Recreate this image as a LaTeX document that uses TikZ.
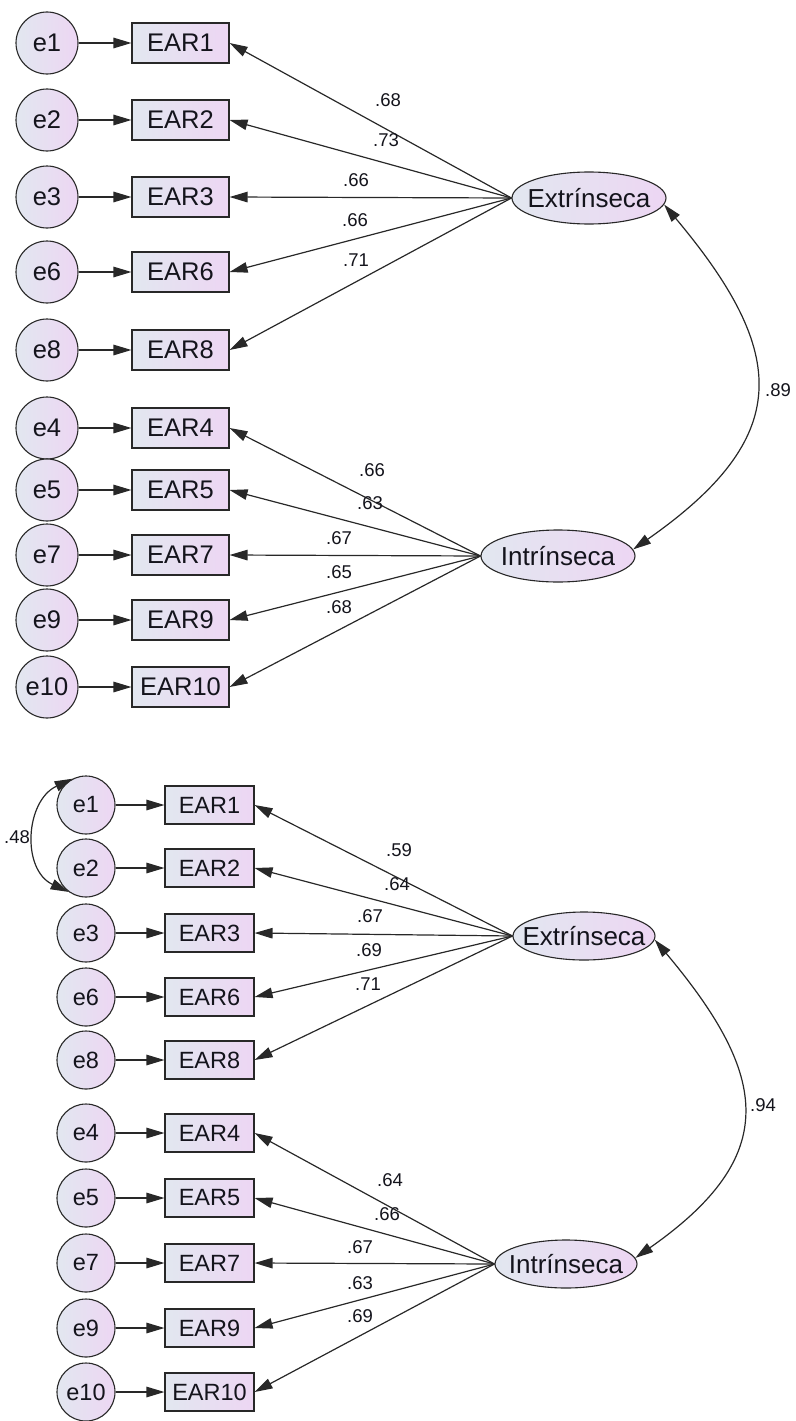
\documentclass[tikz,border=0pt]{standalone}
\usepackage{fontspec}
\setmainfont{Liberation Sans}
\usetikzlibrary{arrows.meta,shapes.geometric}
\definecolor{gl}{RGB}{226,231,240}
\definecolor{gr}{RGB}{237,214,243}
\definecolor{edgec}{RGB}{40,40,40}
\definecolor{txt}{RGB}{20,20,28}
\begin{document}
\begin{tikzpicture}[x=1pt,y=1pt,
  base/.style={draw=edgec, line width=1.1pt, left color=gl, right color=gr, text=txt, inner sep=0pt},
  errT/.style={base, circle, minimum size=62pt, font=\fontsize{25.5}{25.5}\selectfont},
  errB/.style={base, circle, minimum size=58pt, font=\fontsize{23.5}{23.5}\selectfont},
  obsT/.style={base, rectangle, minimum width=97pt, minimum height=40pt, font=\fontsize{25.5}{25.5}\selectfont},
  obsB/.style={base, rectangle, minimum width=89pt, minimum height=38pt, font=\fontsize{23.5}{23.5}\selectfont},
  latT/.style={base, ellipse, minimum width=154pt, minimum height=52pt},
  latB/.style={base, ellipse, minimum width=142pt, minimum height=48pt},
  latfont/.style={font=\fontsize{26}{26}\selectfont, text=txt, inner sep=0pt},
  arr/.style={draw=edgec, line width=1.2pt, -{Triangle[length=18pt,width=10.5pt]}},
  cov/.style={draw=edgec, line width=1.2pt, {Triangle[length=18pt,width=10.5pt]}-{Triangle[length=18pt,width=10.5pt]}},
  lab/.style={font=\fontsize{18.5}{18.5}\selectfont, text=txt, inner sep=0pt}
]
\useasboundingbox (0,0) rectangle (795,-1421);

% ---------------- top model ----------------
\node[latT, label={[latfont]center:Extrínseca}] (text) at (589,-198) {};
\node[latT, label={[latfont]center:Intrínseca}] (tint) at (558,-556) {};

\foreach \n/\y in {1/43,2/120,3/197,6/272,8/350,4/428,5/490,7/555,9/620,10/687}{
  \node[errT] (te\n) at (47,-\y) {e\n};
  \node[obsT] (tx\n) at (180.5,-\y) {EAR\n};
  \draw[arr] (te\n) -- (tx\n);
}
\foreach \n/\v/\lx/\ly in {1/.68/388/100,2/.73/386/140,3/.66/356/180,6/.66/355/220,8/.71/356/260}{
  \draw[arr] (text.west) -- (tx\n.east);
  \node[lab] (tl\n) at (\lx,-\ly) {\v};
}
\foreach \n/\v/\lx/\ly in {4/.66/372/470,5/.63/370/503,7/.67/339/538,9/.65/339/572,10/.68/339/607}{
  \draw[arr] (tint.west) -- (tx\n.east);
  \node[lab] (tl\n) at (\lx,-\ly) {\v};
}
\draw[cov] (text.-5) to[out=-50,in=35,looseness=1.44] (tint.5);
\node[lab] (tcov) at (778,-390) {.89};

% ---------------- bottom model ----------------
\node[latB, label={[latfont]center:Extrínseca}] (bext) at (584,-936) {};
\node[latB, label={[latfont]center:Intrínseca}] (bint) at (566,-1264) {};

\foreach \n/\y in {1/805,2/868,3/933,6/997,8/1060,4/1133,5/1198,7/1263,9/1328,10/1392}{
  \node[errB] (be\n) at (86,-\y) {e\n};
  \node[obsB] (bx\n) at (209.5,-\y) {EAR\n};
  \draw[arr] (be\n) -- (bx\n);
}
\foreach \n/\v/\lx/\ly in {1/.59/399/850,2/.64/397/884,3/.67/370/916,6/.69/369/950,8/.71/368/984}{
  \draw[arr] (bext.west) -- (bx\n.east);
  \node[lab] (bl\n) at (\lx,-\ly) {\v};
}
\foreach \n/\v/\lx/\ly in {4/.64/390/1180,5/.66/387/1214,7/.67/360/1247,9/.63/360/1283,10/.69/360/1316}{
  \draw[arr] (bint.west) -- (bx\n.east);
  \node[lab] (bl\n) at (\lx,-\ly) {\v};
}
\draw[cov] (bext.-3) to[out=-50,in=35,looseness=1.43] (bint.5);
\node[lab] (bcov) at (763,-1105) {.94};

\draw[cov] (be1.117) to[out=205,in=155,looseness=1.18] (be2.234);
\node[lab] (bcov12) at (17,-837) {.48};
\end{tikzpicture}
\end{document}
